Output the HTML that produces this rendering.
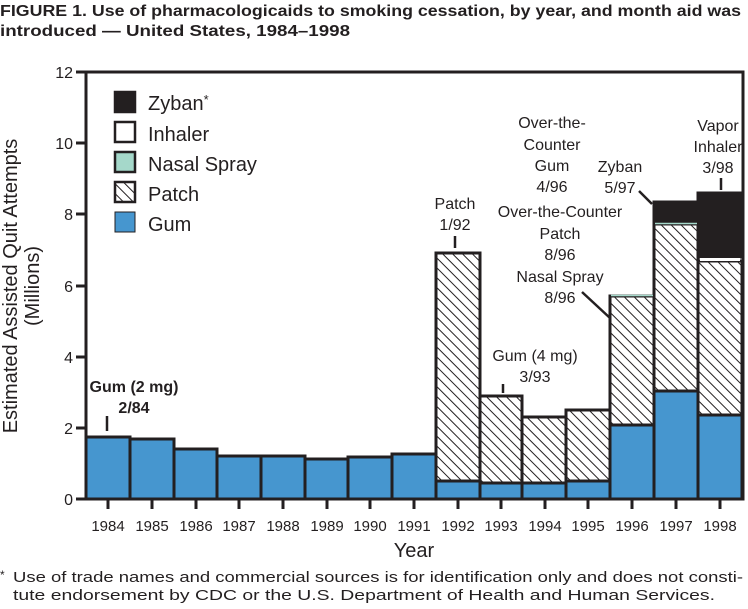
<!DOCTYPE html>
<html><head><meta charset="utf-8"><style>
body{margin:0;background:#fff;width:748px;height:604px;overflow:hidden}
svg text{font-family:"Liberation Sans",sans-serif;fill:#231f20}
</style></head><body>
<svg width="748" height="604" xmlns="http://www.w3.org/2000/svg">
<defs>
<pattern id="h" patternUnits="userSpaceOnUse" width="7" height="7" patternTransform="rotate(-45)">
<rect width="7" height="7" fill="#fff"/><line x1="0" y1="0" x2="0" y2="7" stroke="#231f20" stroke-width="2"/>
</pattern>
</defs>
<text x="0" y="16" font-size="16" font-weight="bold" textLength="741" lengthAdjust="spacingAndGlyphs">FIGURE 1. Use of pharmacologicaids to smoking cessation, by year, and month aid was</text>
<text x="0" y="36" font-size="16" font-weight="bold" textLength="350" lengthAdjust="spacingAndGlyphs">introduced — United States, 1984–1998</text>
<g stroke="#231f20" stroke-width="3">
<rect x="86" y="437" width="44" height="62" fill="#4696cf"/>
<rect x="130" y="439" width="44" height="60" fill="#4696cf"/>
<rect x="174" y="449" width="43" height="50" fill="#4696cf"/>
<rect x="217" y="456" width="44" height="43" fill="#4696cf"/>
<rect x="261" y="456" width="44" height="43" fill="#4696cf"/>
<rect x="305" y="459" width="43" height="40" fill="#4696cf"/>
<rect x="348" y="457" width="44" height="42" fill="#4696cf"/>
<rect x="392" y="454" width="44" height="45" fill="#4696cf"/>
<rect x="436" y="253" width="44" height="228" fill="url(#h)"/>
<rect x="436" y="481" width="44" height="18" fill="#4696cf"/>
<rect x="480" y="396" width="42" height="87" fill="url(#h)"/>
<rect x="480" y="483" width="42" height="16" fill="#4696cf"/>
<rect x="522" y="417" width="44" height="66" fill="url(#h)"/>
<rect x="522" y="483" width="44" height="16" fill="#4696cf"/>
<rect x="566" y="410" width="44" height="71" fill="url(#h)"/>
<rect x="566" y="481" width="44" height="18" fill="#4696cf"/>
<rect x="610" y="296" width="44" height="129" fill="url(#h)"/>
<rect x="610" y="425" width="44" height="74" fill="#4696cf"/>
<rect x="654" y="224" width="44" height="167" fill="url(#h)"/>
<rect x="654" y="391" width="44" height="108" fill="#4696cf"/>
<rect x="654" y="202" width="44" height="21" fill="#231f20"/>
<rect x="698" y="261" width="44" height="154" fill="url(#h)"/>
<rect x="698" y="415" width="44" height="84" fill="#4696cf"/>
<rect x="698" y="193" width="44" height="64" fill="#231f20"/>
</g>
<line x1="655" y1="223.5" x2="697" y2="223.5" stroke="#a5d8ca" stroke-width="1.5"/>
<line x1="611" y1="295.5" x2="653" y2="295.5" stroke="#a5d8ca" stroke-width="1.5"/>
<rect x="700" y="258" width="40" height="3" fill="#fff"/>
<g stroke="#231f20" stroke-width="3" fill="none">
<polyline points="86,72 86,499 743,499 743,72 86,72"/>
</g>
<g stroke="#231f20" stroke-width="3">
<line x1="76" y1="72" x2="86" y2="72"/><line x1="76" y1="143" x2="86" y2="143"/><line x1="76" y1="214" x2="86" y2="214"/><line x1="76" y1="286" x2="86" y2="286"/><line x1="76" y1="357" x2="86" y2="357"/><line x1="76" y1="428" x2="86" y2="428"/><line x1="76" y1="499" x2="86" y2="499"/>
</g>
<g font-size="16" text-anchor="end">
<text x="73" y="78">12</text><text x="73" y="149">10</text><text x="73" y="220">8</text><text x="73" y="292">6</text><text x="73" y="363">4</text><text x="73" y="434">2</text><text x="73" y="505">0</text>
</g>
<g stroke="#231f20" stroke-width="3">
<line x1="108" y1="499" x2="108" y2="509"/><line x1="152" y1="499" x2="152" y2="509"/><line x1="196" y1="499" x2="196" y2="509"/><line x1="239" y1="499" x2="239" y2="509"/><line x1="283" y1="499" x2="283" y2="509"/><line x1="327" y1="499" x2="327" y2="509"/><line x1="370" y1="499" x2="370" y2="509"/><line x1="414" y1="499" x2="414" y2="509"/><line x1="458" y1="499" x2="458" y2="509"/><line x1="501" y1="499" x2="501" y2="509"/><line x1="545" y1="499" x2="545" y2="509"/><line x1="588" y1="499" x2="588" y2="509"/><line x1="632" y1="499" x2="632" y2="509"/><line x1="676" y1="499" x2="676" y2="509"/><line x1="720" y1="499" x2="720" y2="509"/>
</g>
<g font-size="15" text-anchor="middle">
<text x="108" y="531">1984</text><text x="152" y="531">1985</text><text x="196" y="531">1986</text><text x="239" y="531">1987</text><text x="283" y="531">1988</text><text x="327" y="531">1989</text><text x="370" y="531">1990</text><text x="414" y="531">1991</text><text x="458" y="531">1992</text><text x="501" y="531">1993</text><text x="545" y="531">1994</text><text x="588" y="531">1995</text><text x="632" y="531">1996</text><text x="676" y="531">1997</text><text x="720" y="531">1998</text>
</g>
<text x="414" y="557" font-size="20" text-anchor="middle">Year</text>
<text transform="translate(17,286) rotate(-90)" font-size="20" text-anchor="middle">Estimated Assisted Quit Attempts</text>
<text transform="translate(39,286) rotate(-90)" font-size="20" text-anchor="middle">(Millions)</text>
<text x="0" y="579" font-size="12">*</text>
<text x="13" y="582" font-size="15" textLength="730" lengthAdjust="spacingAndGlyphs">Use of trade names and commercial sources is for identification only and does not consti-</text>
<text x="13" y="600" font-size="15" textLength="702" lengthAdjust="spacingAndGlyphs">tute endorsement by CDC or the U.S. Department of Health and Human Services.</text>
<!-- legend -->
<g stroke="#231f20" stroke-width="2.5">
<rect x="115" y="92" width="20" height="20" fill="#231f20"/>
<rect x="115" y="122" width="20" height="20" fill="#fff"/>
<rect x="115" y="152" width="20" height="20" fill="#a5d8ca"/>
<rect x="115" y="182" width="20" height="20" fill="url(#h)"/>
<rect x="115" y="212" width="20" height="20" fill="#4696cf" stroke-width="1"/>
</g>
<g font-size="20">
<text x="148" y="110">Zyban<tspan font-size="13" dy="-6">*</tspan></text>
<text x="148" y="141">Inhaler</text><text x="148" y="171">Nasal Spray</text><text x="148" y="201">Patch</text><text x="148" y="231">Gum</text>
</g>
<!-- annotations -->
<g font-size="16" font-weight="bold" text-anchor="middle">
<text x="134" y="392">Gum (2 mg)</text><text x="134" y="413">2/84</text>
</g>
<g font-size="16" text-anchor="middle">
<text x="455" y="209">Patch</text><text x="455" y="230">1/92</text>
<text x="535" y="361">Gum (4 mg)</text><text x="535" y="382">3/93</text>
<text x="552" y="128">Over-the-</text><text x="552" y="150">Counter</text><text x="552" y="171">Gum</text><text x="552" y="192">4/96</text>
<text x="620" y="172">Zyban</text><text x="620" y="193">5/97</text>
<text x="560" y="217">Over-the-Counter</text><text x="560" y="239">Patch</text><text x="560" y="260">8/96</text>
<text x="560" y="282">Nasal Spray</text><text x="560" y="303">8/96</text>
<text x="718" y="131">Vapor</text><text x="718" y="152">Inhaler</text><text x="718" y="173">3/98</text>
</g>
<g stroke="#231f20" stroke-width="2.5">
<line x1="107" y1="416" x2="107" y2="431"/>
<line x1="455" y1="236" x2="455" y2="248"/>
<line x1="503" y1="384" x2="503" y2="393"/>
<line x1="639" y1="191" x2="652" y2="204"/>
<line x1="582" y1="292" x2="610" y2="318"/>
<line x1="721" y1="178" x2="721" y2="190"/>
</g>
</svg>
</body></html>
